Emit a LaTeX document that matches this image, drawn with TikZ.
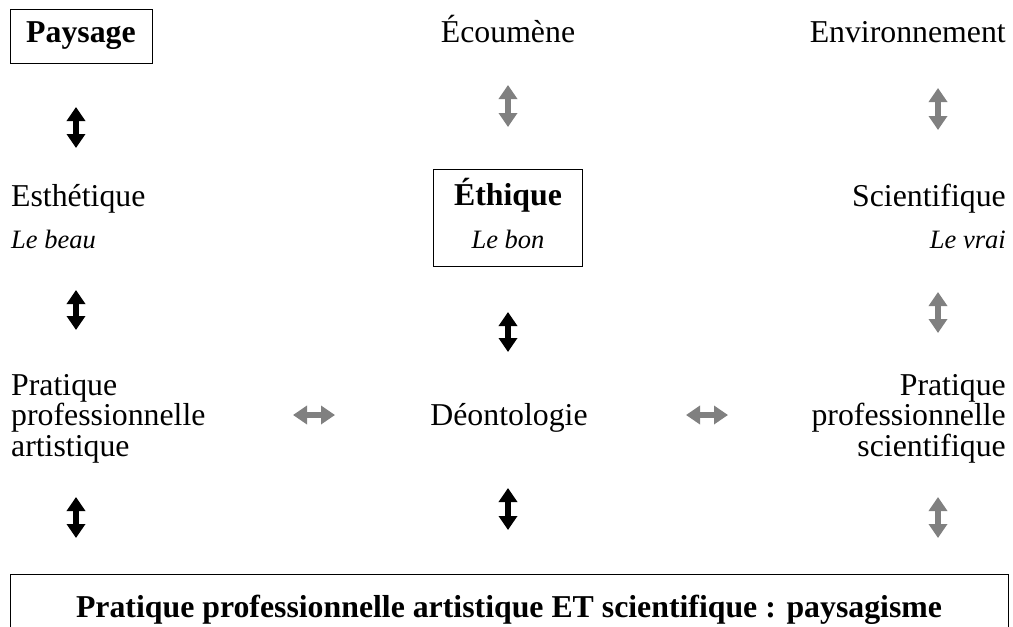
\documentclass[tikz,border=0pt]{standalone}
\usepackage{fontspec}
\setmainfont{Liberation Serif}
\usetikzlibrary{arrows.meta}
\definecolor{arrgray}{gray}{0.5}
\tikzset{
  lbl/.style={inner sep=0pt, font=\fontsize{31.8}{30.5}\selectfont},
  sub/.style={inner sep=0pt, font=\fontsize{26.5}{30}\selectfont\itshape},
  bld/.style={inner sep=0pt, font=\fontsize{31.8}{30.5}\selectfont\bfseries},
  dbl/.style={line width=5.5pt, {Triangle[width=18pt,length=14pt]}-{Triangle[width=18pt,length=14pt]}},
  blk/.style={dbl, black},
  gry/.style={dbl, arrgray},
  framed/.style={draw, line width=0.8pt, inner sep=0pt}
}
\begin{document}
\begin{tikzpicture}[x=1pt,y=-1pt]
\useasboundingbox (0,0) rectangle (1013,627);
% top row
\node[framed, bld, minimum width=142pt, minimum height=54pt] (paysage) at (81,36) {Paysage};
\node[lbl, anchor=base] (ecoumene) at (508,42) {Écoumène};
\node[lbl, anchor=base east] (environ) at (1006,42) {Environnement};
% second row
\node[lbl, anchor=base west] (esth) at (11,206) {Esthétique};
\node[sub, anchor=base west] (beau) at (11,248) {Le beau};
\node[framed, minimum width=149pt, minimum height=97pt] (ethbox) at (507.5,217.5) {};
\node[bld, anchor=base] (ethique) at (508,205) {Éthique};
\node[sub, anchor=base] (bon) at (508,248) {Le bon};
\node[lbl, anchor=base east] (scient) at (1006,206) {Scientifique};
\node[sub, anchor=base east] (vrai) at (1006,248) {Le vrai};
% third row
\node[lbl, anchor=base west, align=left] (ppa) at (11,456) {Pratique\\professionnelle\\artistique};
\node[lbl, anchor=base] (deonto) at (509,425) {Déontologie};
\node[lbl, anchor=base east, align=right] (pps) at (1006,456) {Pratique\\professionnelle\\scientifique};
% bottom box
\node[framed, minimum width=998pt, minimum height=80pt] (bottom) at (509,614) {};
\node[bld, anchor=base] (paysagisme) at (509,617) {Pratique professionnelle artistique ET scientifique : paysagisme};
% arrow end points
\coordinate (a1t) at (76,107);  \coordinate (a1b) at (76,148);
\coordinate (a2t) at (508,85);  \coordinate (a2b) at (508,127);
\coordinate (a3t) at (938,88);  \coordinate (a3b) at (938,130);
\coordinate (b1t) at (76,290);  \coordinate (b1b) at (76,330);
\coordinate (b2t) at (508,312); \coordinate (b2b) at (508,352);
\coordinate (b3t) at (938,292); \coordinate (b3b) at (938,333);
\coordinate (h1l) at (293,415); \coordinate (h1r) at (335,415);
\coordinate (h2l) at (686,415); \coordinate (h2r) at (728,415);
\coordinate (c1t) at (76,497);  \coordinate (c1b) at (76,538);
\coordinate (c2t) at (508,488); \coordinate (c2b) at (508,530);
\coordinate (c3t) at (938,497); \coordinate (c3b) at (938,538);
% arrows
\draw[blk] (a1t) -- (a1b);
\draw[gry] (a2t) -- (a2b);
\draw[gry] (a3t) -- (a3b);
\draw[blk] (b1t) -- (b1b);
\draw[blk] (b2t) -- (b2b);
\draw[gry] (b3t) -- (b3b);
\draw[gry] (h1l) -- (h1r);
\draw[gry] (h2l) -- (h2r);
\draw[blk] (c1t) -- (c1b);
\draw[blk] (c2t) -- (c2b);
\draw[gry] (c3t) -- (c3b);
\end{tikzpicture}
\end{document}
